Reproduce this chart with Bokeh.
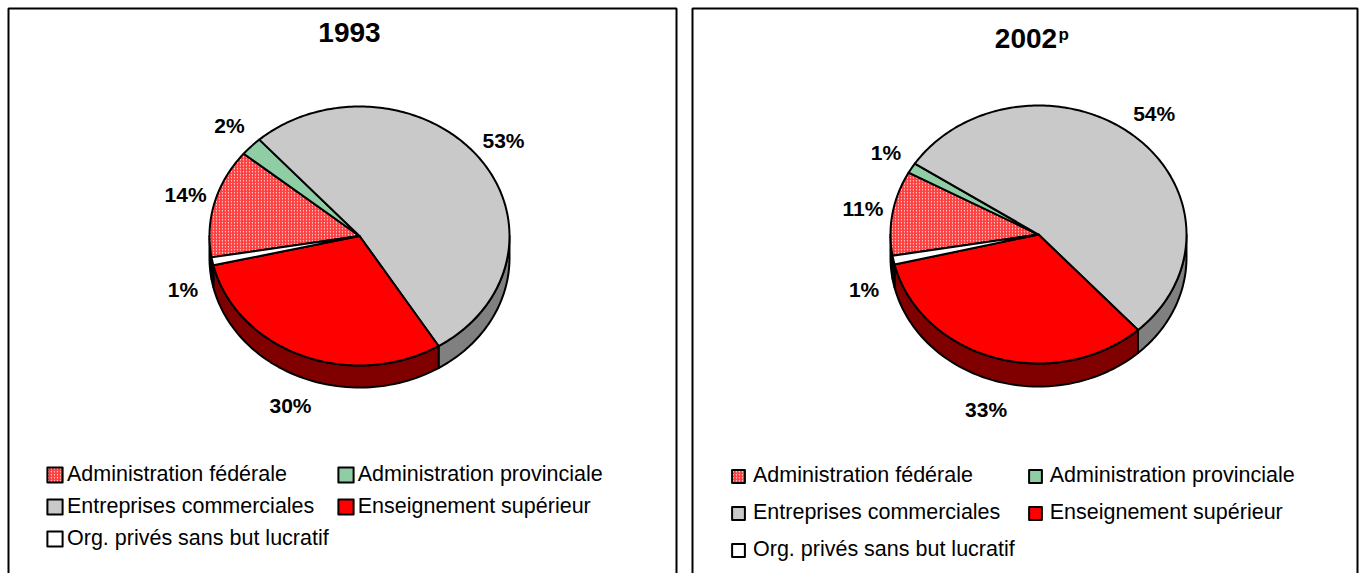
import numpy as np
from bokeh.plotting import figure
from bokeh.models import Range1d, Legend, LegendItem, Label, ColumnDataSource
from bokeh.layouts import row
from bokeh.core.properties import value
from bokeh.embed import file_html
from bokeh.resources import INLINE

# ---------------- data ----------------
categories = ["Administration fédérale", "Administration provinciale",
              "Entreprises commerciales", "Enseignement supérieur",
              "Org. privés sans but lucratif"]
shares_1993 = [13.6, 2.4, 52.8, 30.2, 1.0]
shares_2002 = [10.6, 1.3, 54.0, 33.0, 1.1]
year_1993 = "1993"
year_2002 = "2002"
year_2002_note = "p"

# ---------------- style ----------------
FONT = "Liberation Sans"
top_fill = ["#ffc4c4", "#8fcea5", "#c9c9c9", "#ff0000", "white"]
top_hatch = ["/", " ", " ", " ", " "]
side_fill = ["#8a4a4a", "#4f8060", "#808080", "#800000", "#a0a0a0"]
H = 573


def make_panel(W, shares, frame, cx, cy, rx, ry, depth,
               leg_x, leg_y, leg_spacing, glyph, standoff, start=189.5):
    p = figure(width=W, height=H, x_range=Range1d(0, W), y_range=Range1d(H, 0),
               output_backend="svg", toolbar_location=None, min_border=0,
               x_axis_type=None, y_axis_type=None)
    p.outline_line_color = None
    p.background_fill_color = "white"
    p.border_fill_color = "white"

    # panel frame (open at the bottom, as in the original)
    fl, ft, fr = frame
    p.line(x=[fl, fl, fr, fr], y=[H + 20, ft, ft, H + 20],
           line_color="black", line_width=2)

    vals = np.array(shares, dtype=float)
    ang = vals / vals.sum() * 360.0
    bounds = start - np.concatenate([[0.0], np.cumsum(ang)])

    # sides (front half only)
    for i in range(len(vals)):
        a0, a1 = bounds[i], bounds[i + 1]
        for w0, w1 in ((-180.0, 0.0), (180.0, 360.0)):
            lo, hi = max(a1, w0), min(a0, w1)
            if hi > lo:
                t = np.radians(np.linspace(hi, lo, 60))
                xt = cx + rx * np.cos(t)
                yt = cy - ry * np.sin(t)
                xs = np.concatenate([xt, xt[::-1]])
                ys = np.concatenate([yt, (yt + depth)[::-1]])
                p.patch(xs, ys, fill_color=side_fill[i], line_color="black",
                        line_width=2, line_join="round")

    # top faces
    renderers = []
    for i in range(len(vals)):
        a0, a1 = bounds[i], bounds[i + 1]
        n = max(4, int(abs(a0 - a1)) + 2)
        t = np.radians(np.linspace(a0, a1, n))
        xs = np.concatenate([[cx], cx + rx * np.cos(t)])
        ys = np.concatenate([[cy], cy - ry * np.sin(t)])
        r = p.patch(xs, ys, fill_color=top_fill[i], line_color="black",
                    line_width=2, line_join="round",
                    hatch_pattern=top_hatch[i], hatch_color="#ff3030",
                    hatch_scale=3, hatch_weight=1.2)
        renderers.append(r)

    # percentage labels
    mid = np.radians((bounds[:-1] + bounds[1:]) / 2)
    lx = cx + (rx + 30) * np.cos(mid)
    ly = cy - (ry + 30) * np.sin(mid) + np.where(np.sin(mid) < 0, depth, 0)
    txt = [f"{int(round(v))}%" for v in vals]
    src = ColumnDataSource(dict(x=lx, y=ly, t=txt))
    p.text(x="x", y="y", text="t", source=src, text_font=value(FONT),
           text_font_style="bold", text_font_size="21px",
           text_align="center", text_baseline="middle", text_color="black")

    items = [LegendItem(label=categories[i], renderers=[renderers[i]])
             for i in range(len(vals))]
    legend = Legend(items=items, location=(leg_x, leg_y), orientation="horizontal",
                    ncols=2, glyph_width=glyph, glyph_height=glyph,
                    label_standoff=standoff, spacing=leg_spacing,
                    padding=0, margin=0, border_line_color=None,
                    background_fill_alpha=0,
                    label_text_font=FONT, label_text_font_size="21.5px",
                    label_text_color="black")
    p.add_layout(legend, "center")
    return p


p1 = make_panel(685, shares_1993, frame=(8, 8, 676), cx=359, cy=235.5, rx=150,
                ry=129.5, depth=22, leg_x=45, leg_y=22, leg_spacing=7,
                glyph=19, standoff=3)
p1.add_layout(Label(x=349, y=32, text=year_1993, text_font=FONT,
                    text_font_style="bold", text_font_size="28px",
                    text_color="black",
                    text_align="center", text_baseline="middle"))

p2 = make_panel(674, shares_2002, frame=(7, 8, 672), cx=353, cy=234, rx=148,
                ry=129, depth=23, leg_x=45, leg_y=11, leg_spacing=12,
                glyph=16, standoff=7)
p2.add_layout(Label(x=340.5, y=37.5, text=year_2002, text_font=FONT,
                    text_font_style="bold", text_font_size="28px",
                    text_color="black",
                    text_align="center", text_baseline="middle"))
p2.add_layout(Label(x=373, y=34, text=year_2002_note, text_font=FONT,
                    text_font_style="bold", text_font_size="17px",
                    text_color="black",
                    text_align="left", text_baseline="alphabetic"))

layout = row(p1, p2, spacing=0)
open("out.html", "w").write(file_html(layout, INLINE))
